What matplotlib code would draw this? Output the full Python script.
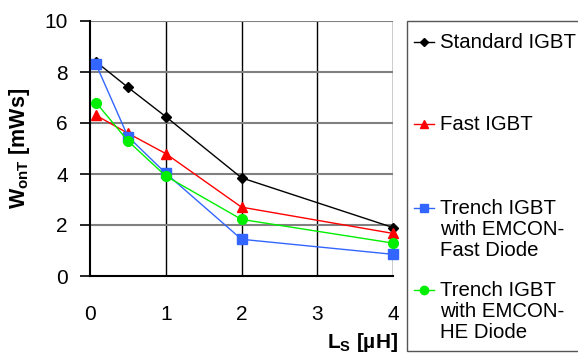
import matplotlib
matplotlib.use("Agg")
import matplotlib.pyplot as plt
from matplotlib.lines import Line2D
from matplotlib.patches import Rectangle

plt.rcParams['font.family'] = ['Liberation Sans', 'DejaVu Sans']
plt.rcParams['mathtext.fontset'] = 'custom'
plt.rcParams['mathtext.rm'] = 'Liberation Sans'
plt.rcParams['mathtext.bf'] = 'Liberation Sans:bold'

ls_uH = [0.08, 0.5, 1, 2, 4]
standard = [8.4, 7.4, 6.25, 3.85, 1.9]
fast = [6.3, 5.6, 4.8, 2.7, 1.67]
trench_fast = [8.3, 5.47, 4.03, 1.44, 0.85]
trench_he = [6.8, 5.3, 3.92, 2.22, 1.29]

labels = ["Standard IGBT", "Fast IGBT",
          "Trench IGBT\nwith EMCON-\nFast Diode",
          "Trench IGBT\nwith EMCON-\nHE Diode"]
colors = ["black", "#ff0000", "#3366ff", "#00ee00"]
markers = ["D", "^", "s", "o"]
msizes = [5, 7, 7, 7]
xticks = [0, 1, 2, 3, 4]
yticks = [0, 2, 4, 6, 8, 10]

W, H = 578, 354
fig = plt.figure(figsize=(W / 100, H / 100), dpi=100)
ax = fig.add_axes([90 / W, 1 - 276 / H, (393 - 90) / W, (276 - 21) / H])

series = [standard, fast, trench_fast, trench_he]
for ys, c, m, ms in zip(series, colors, markers, msizes):
    ax.plot(ls_uH, ys, color=c, marker=m, markersize=ms, lw=1, clip_on=False, zorder=3)

ax.set_xlim(0, 4)
ax.set_ylim(0, 10)
ax.set_xticks(xticks)
ax.set_yticks(yticks)
ax.tick_params(axis='both', labelsize=15)
ax.tick_params(axis='x', length=0, pad=21)
ax.tick_params(axis='y', direction='out', length=7, width=1.2, pad=9)
for x in xticks[1:]:
    ax.axvline(x, color='black', lw=1, zorder=1)
for y in yticks[1:]:
    ax.axhline(y, color='#808080', lw=1.5, zorder=1)
for s in ['top', 'right']:
    ax.spines[s].set_visible(False)
ax.spines['left'].set_linewidth(1.5)
ax.spines['bottom'].set_linewidth(1.5)

ax.set_ylabel(r'$\mathbf{W_{onT}}$ [mWs]', fontsize=15.5, fontweight='bold')
ax.yaxis.set_label_coords(-0.19, 0.5)
fig.text(398 / W, 1 - 342 / H, r'$\mathbf{L_{S}}$ [µH]', fontsize=15, fontweight='bold',
         ha='right', va='center')

# legend box
fig.add_artist(Rectangle((407 / W, 1 - 351 / H), (W + 5 - 407) / W, (351 - 21) / H,
                         transform=fig.transFigure, fill=False, edgecolor='#555555', lw=1))
marker_y = [42, 124, 208, 290]
for yy, lab, c, m, ms in zip(marker_y, labels, colors, markers, msizes):
    fy = 1 - yy / H
    fig.add_artist(Line2D([414 / W, 434 / W], [fy, fy], transform=fig.transFigure,
                          color=c, lw=1, marker=None))
    fig.add_artist(Line2D([424 / W], [fy], transform=fig.transFigure, color=c,
                          marker=m, markersize=ms - 1, lw=0))
    fig.text(440 / W, fy + 9 / H, lab, fontsize=14.7, ha='left', va='top', linespacing=1.12)

fig.savefig("out.png", dpi=100)
